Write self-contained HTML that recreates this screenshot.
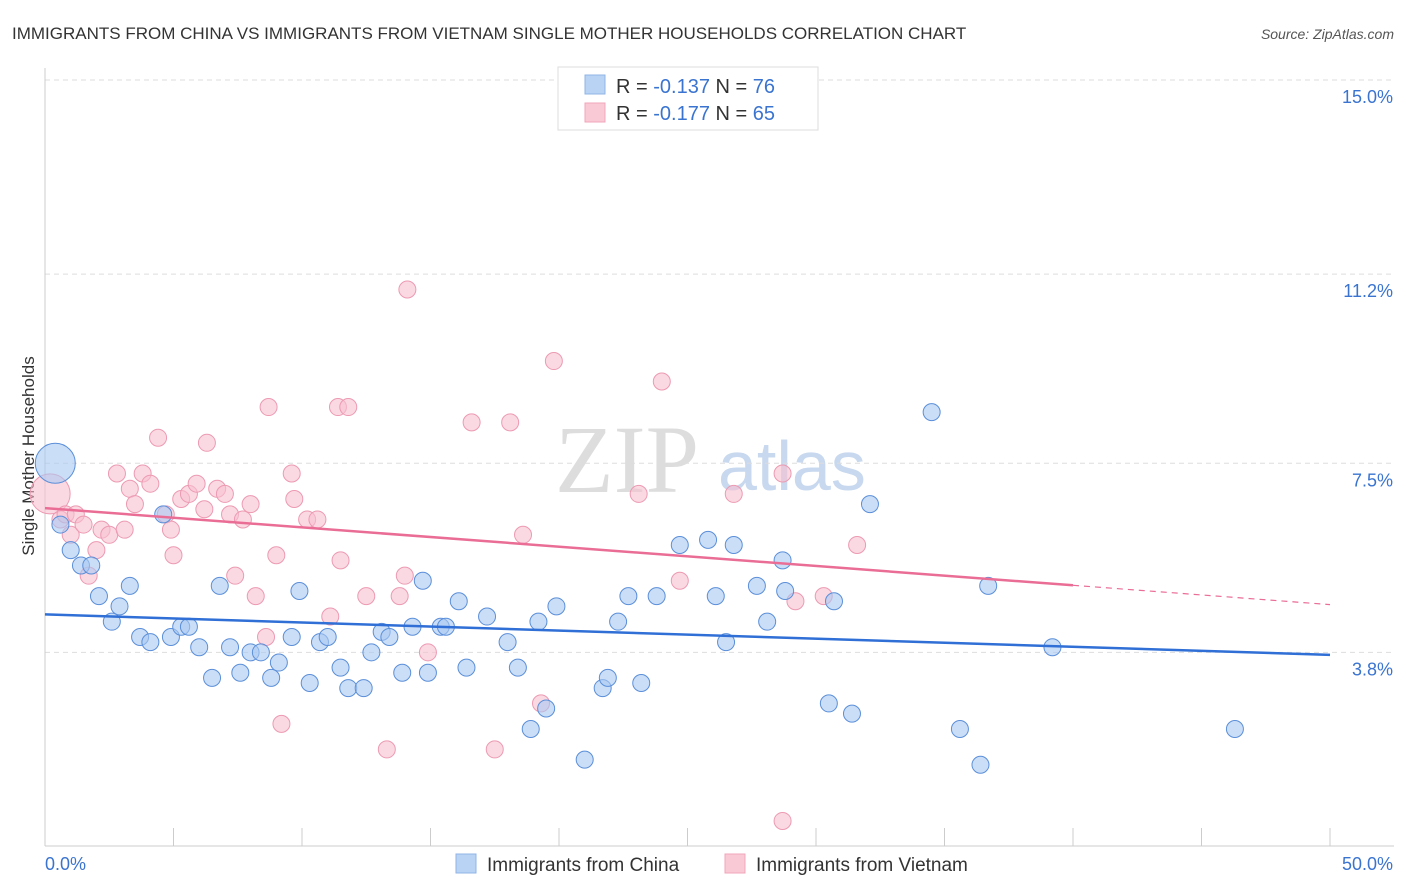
<!DOCTYPE html>
<html><head><meta charset="utf-8"><style>
body{margin:0;background:#fff;font-family:"Liberation Sans",sans-serif;}
svg{display:block}
</style></head><body>
<svg id="c" width="1406" height="892" xmlns="http://www.w3.org/2000/svg">
<text x="12" y="39" font-size="17" fill="#333">IMMIGRANTS FROM CHINA VS IMMIGRANTS FROM VIETNAM SINGLE MOTHER HOUSEHOLDS CORRELATION CHART</text>
<text x="1394" y="39" font-size="14" fill="#555" font-style="italic" text-anchor="end">Source: ZipAtlas.com</text>
<text transform="translate(34,456) rotate(-90)" font-size="17" fill="#333" text-anchor="middle">Single Mother Households</text>
<text x="555" y="492" font-size="96" fill="#ddd" font-family="Liberation Serif">ZIP</text>
<text x="718" y="490" font-size="70" fill="#c8d8ee">atlas</text>
<g id="grid"></g><g id="marks"></g>
<g>
<rect x="558" y="67" width="260" height="63" fill="#fff" stroke="#ddd"/>
<rect x="585" y="75" width="20" height="19" fill="#b9d3f5" stroke="#8fb4e6"/>
<rect x="585" y="103" width="20" height="19" fill="#f9c9d6" stroke="#f0a6bb"/>
<text x="616" y="93" font-size="20" fill="#333">R = <tspan fill="#3a74d0">-0.137</tspan>   N = <tspan fill="#3a74d0">76</tspan></text>
<text x="616" y="120" font-size="20" fill="#333">R = <tspan fill="#3a74d0">-0.177</tspan>   N = <tspan fill="#3a74d0">65</tspan></text>
</g>
<g>
<rect x="456" y="854" width="20" height="19" fill="#b9d3f5" stroke="#8fb4e6"/>
<text x="487" y="871" font-size="19" fill="#333">Immigrants from China</text>
<rect x="725" y="854" width="20" height="19" fill="#f9c9d6" stroke="#f0a6bb"/>
<text x="756" y="871" font-size="19" fill="#333">Immigrants from Vietnam</text>
</g>
</svg>
<script>
const yTicks=[15.0,11.2,7.5,3.8];
const yTickLabels=["15.0%","11.2%","7.5%","3.8%"];
const xTickLabels=["0.0%","50.0%"];
const chinaX=[0.4,0.6,1,1.4,1.8,2.1,2.6,2.9,3.3,3.7,4.1,4.6,4.9,5.3,5.6,6,6.5,6.8,7.2,7.6,8,8.4,8.8,9.1,9.6,9.9,10.3,10.7,11,11.5,11.8,12.4,12.7,13.1,13.4,13.9,14.3,14.7,14.9,15.4,15.6,16.1,16.4,17.2,18,18.4,18.9,19.2,19.5,19.9,21,21.7,21.9,22.3,22.7,23.2,23.8,24.7,25.8,26.1,26.5,26.8,27.7,28.1,28.7,28.8,30.5,30.7,31.4,32.1,34.5,35.6,36.4,36.7,39.2,46.3];
const chinaY=[7.5,6.3,5.8,5.5,5.5,4.9,4.4,4.7,5.1,4.1,4,6.5,4.1,4.3,4.3,3.9,3.3,5.1,3.9,3.4,3.8,3.8,3.3,3.6,4.1,5,3.2,4,4.1,3.5,3.1,3.1,3.8,4.2,4.1,3.4,4.3,5.2,3.4,4.3,4.3,4.8,3.5,4.5,4,3.5,2.3,4.4,2.7,4.7,1.7,3.1,3.3,4.4,4.9,3.2,4.9,5.9,6,4.9,4,5.9,5.1,4.4,5.6,5,2.8,4.8,2.6,6.7,8.5,2.3,1.6,5.1,3.9,2.3];
const vietX=[0.2,0.6,0.8,1,1.2,1.5,1.7,2,2.2,2.5,2.8,3.1,3.3,3.5,3.8,4.1,4.4,4.7,4.9,5,5.3,5.6,5.9,6.2,6.3,6.7,7,7.2,7.4,7.7,8,8.2,8.6,8.7,9,9.2,9.6,9.7,10.2,10.6,11.1,11.4,11.5,11.8,12.5,13.3,13.8,14,14.1,14.9,16.6,17.5,18.1,18.6,19.3,19.8,23.1,24,24.7,26.8,28.7,28.7,29.2,30.3,31.6];
const vietY=[6.9,6.4,6.5,6.1,6.5,6.3,5.3,5.8,6.2,6.1,7.3,6.2,7,6.7,7.3,7.1,8,6.5,6.2,5.7,6.8,6.9,7.1,6.6,7.9,7,6.9,6.5,5.3,6.4,6.7,4.9,4.1,8.6,5.7,2.4,7.3,6.8,6.4,6.4,4.5,8.6,5.6,8.6,4.9,1.9,4.9,5.3,10.9,3.8,8.3,1.9,8.3,6.1,2.8,9.5,6.9,9.1,5.2,6.9,7.3,0.5,4.8,4.9,5.9];
const X=v=>45+v/50*1285, Y=v=>80+(15-v)*51.1;
const NS="http://www.w3.org/2000/svg";
const g=document.getElementById('grid'), m=document.getElementById('marks');
function mk(p,tag,a){const e=document.createElementNS(NS,tag);for(const k in a)e.setAttribute(k,a[k]);p.appendChild(e);return e;}
yTicks.forEach((t,i)=>{
 const l=mk(g,'line',{x1:45,x2:1394,y1:Y(t),y2:Y(t),stroke:'#ddd','stroke-dasharray':'5,4'});
 
 
 const tx=mk(g,'text',{x:1393,y:Y(t)+23,'font-size':18,fill:'#3a74d0','text-anchor':'end'});tx.textContent=yTickLabels[i];
 
 
});
mk(g,'line',{x1:45,x2:45,y1:68,y2:846,stroke:'#ccc'});
mk(g,'line',{x1:45,x2:1394,y1:846,y2:846,stroke:'#ccc'});
for(let i=0;i<=10;i++){mk(g,'line',{x1:45+i*128.5,x2:45+i*128.5,y1:828,y2:846,stroke:'#ccc'});}
const xl=[[45,'start'],[1393,'end']];
xTickLabels.forEach((s,i)=>{const t=mk(g,'text',{x:xl[i][0],y:870,'font-size':18,fill:'#3a74d0','text-anchor':xl[i][1]});t.textContent=s;
 
 });
function pts(xs,ys,fill,stroke,name){xs.forEach((x,i)=>{const r=(i===0)?20:8.5;
 const c=mk(m,'circle',{cx:X(x),cy:Y(ys[i]),r:r,fill:fill,stroke:stroke,'stroke-width':1,'fill-opacity':0.6});
 
 });}
pts(vietX,vietY,'#f9c0d0','#ec9ab2','vietnam-point');
pts(chinaX,chinaY,'#a9c8f2','#5b8fd9','china-point');
function fit(xs,ys){const n=xs.length;let mx=0,my=0;xs.forEach((x,i)=>{mx+=x;my+=ys[i]});mx/=n;my/=n;let sxy=0,sxx=0;xs.forEach((x,i)=>{sxy+=(x-mx)*(ys[i]-my);sxx+=(x-mx)**2});const b=sxy/sxx;return [my-b*mx,b];}
const [ca,cb]=fit(chinaX,chinaY);const [va,vb]=fit(vietX,vietY);
let l=mk(m,'line',{x1:X(0),y1:Y(ca),x2:X(50),y2:Y(ca+cb*50),stroke:'#2f6fd6','stroke-width':2.5});


l=mk(m,'line',{x1:X(0),y1:Y(va),x2:X(40),y2:Y(va+vb*40),stroke:'#ea6d96','stroke-width':2.5});


l=mk(m,'line',{x1:X(40),y1:Y(va+vb*40),x2:X(50),y2:Y(va+vb*50),stroke:'#ea6d96','stroke-width':1.2,'stroke-dasharray':'6,5'});


</script>
</body></html>
